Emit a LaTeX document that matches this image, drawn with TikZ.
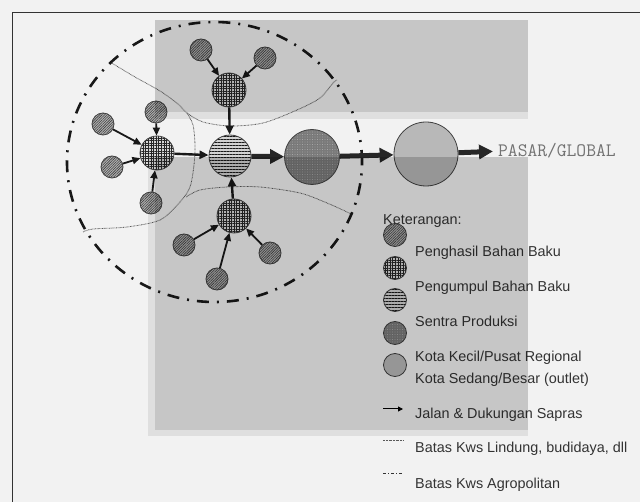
\documentclass[tikz,border=0pt]{standalone}
\usepackage{fontspec}
\setmainfont{Liberation Sans}
\usetikzlibrary{arrows.meta,patterns.meta}
\begin{document}
\begin{tikzpicture}[x=1pt,y=-1pt,
 nd/.style={circle,inner sep=0pt,draw=black!75,line width=0.8pt},
 penghasil/.style={nd,minimum size=22pt,preaction={fill=gray!60},pattern={Lines[angle=45,distance=1.8pt,line width=0.6pt]},pattern color=black!75},
 pengumpul/.style={nd,minimum size=34pt,preaction={fill=gray!30},pattern={Hatch[angle=0,distance=2.6pt,line width=0.6pt]},pattern color=black!85},
 sentra/.style={nd,minimum size=42pt,preaction={fill=gray!35},pattern={Lines[angle=0,distance=3pt,line width=0.9pt]},pattern color=black!90},
 kotakecil/.style={nd,minimum size=55pt,preaction={fill=black!52},pattern={Dots[distance=2.5pt,radius=0.4pt]},pattern color=black!25},
 kotasedang/.style={nd,minimum size=64pt,preaction={fill=black!24},pattern={Dots[distance=2pt,radius=0.4pt]},pattern color=black!70},
 arr/.style={-{Triangle[length=8pt,width=7pt]},line width=1.8pt,black!90},
 arrm/.style={-{Triangle[length=9pt,width=8pt]},line width=2.4pt,black!90},
 arrt/.style={-{Triangle[length=14pt,width=14pt]},line width=5pt,black!85},
 bound/.style={gray!70!black,line width=0.8pt,dash pattern=on 0.7pt off 0.7pt},
 agro/.style={black!90,line width=2.6pt,dash pattern=on 12pt off 8pt on 2pt off 8pt},
 lbl/.style={anchor=base west,text=black!80,font=\fontsize{14.4}{17}\selectfont,inner sep=0pt},
]
\useasboundingbox (0,0) rectangle (640,502);
\fill[white!95!black] (0,0) rectangle (640,502);
\draw[black!80,line width=1pt] (12.5,502) -- (12.5,12.5) -- (640,12.5);

% boundaries
\draw[bound] plot[smooth] coordinates {(110,62) (135,77) (160,91) (178,104) (187,113) (203,122) (230,126) (263,123) (297,110) (320,98) (333,83) (337,80)};
\draw[bound] plot[smooth] coordinates {(187,113) (193,125) (195,145) (194,165) (190,187) (180,202) (160,220) (127,227) (93,229) (83,232)};
\draw[bound] plot[smooth] coordinates {(186,197) (200,190) (227,187) (260,187) (300,193) (327,203) (347,212) (352,215)};

\draw[agro] (214.5,162) ellipse [x radius=147.5pt, y radius=140pt];

% nodes
\node[penghasil] (t1) at (201,50) {};
\node[penghasil] (t2) at (265,58) {};
\node[pengumpul] (tc) at (229,90) {};
\node[sentra] (sp) at (230,156) {};
\node[pengumpul] (lc) at (157,153) {};
\node[penghasil] (l1) at (103,124) {};
\node[penghasil] (l2) at (156,112) {};
\node[penghasil] (l3) at (112,167) {};
\node[penghasil] (l4) at (151,203) {};
\node[pengumpul] (bc) at (234,216) {};
\node[penghasil] (b1) at (184,245) {};
\node[penghasil] (b2) at (217,279) {};
\node[penghasil] (b3) at (270,253) {};
\node[kotakecil] (kk) at (312,157) {};
\node[kotasedang] (ks) at (426,154) {};
\node[font=\ttfamily\fontsize{19}{20}\selectfont, text=black!55, anchor=base west, inner sep=0pt] (pasar) at (498,157) {PASAR/GLOBAL};

% arrows
\draw[arr] (t1) -- (tc);
\draw[arr] (t2) -- (tc);
\draw[arr] (l1) -- (lc);
\draw[arr] (l2) -- (lc);
\draw[arr] (l3) -- (lc);
\draw[arr] (l4) -- (lc);
\draw[arr] (b1) -- (bc);
\draw[arr] (b2) -- (bc);
\draw[arr] (b3) -- (bc);
\draw[arrm] (tc) -- (sp);
\draw[arrm] (bc) -- (sp);
\draw[arrm] (lc) -- (sp);
\draw[arrt] (sp) -- (kk);
\draw[arrt] (kk) -- (ks);
\draw[arrt,shorten >=5pt] (ks) -- (pasar.west);

% legend
\node[lbl] (ket) at (383,225) {Keterangan:};
\node[penghasil,minimum size=23pt] (g1) at (395,235) {};
\node[pengumpul,minimum size=23pt] (g2) at (395,268) {};
\node[sentra,minimum size=23pt] (g3) at (395,300) {};
\node[kotakecil,minimum size=23pt] (g4) at (395,333) {};
\node[kotasedang,minimum size=23pt] (g5) at (395,365) {};
\node[lbl] (t-g1) at (415,257) {Penghasil Bahan Baku};
\node[lbl] (t-g2) at (415,292) {Pengumpul Bahan Baku};
\node[lbl] (t-g3) at (415,327) {Sentra Produksi};
\node[lbl] (t-g4) at (415,362) {Kota Kecil/Pusat Regional};
\node[lbl] (t-g5) at (415,384) {Kota Sedang/Besar (outlet)};
\coordinate (la1) at (383,409); \coordinate (la2) at (403,409);
\draw[-{Triangle[length=5pt,width=5pt]},line width=1pt] (la1) -- (la2);
\node[lbl] (t-l1) at (415,419) {Jalan \& Dukungan Sapras};
\coordinate (lb1) at (383,440); \coordinate (lb2) at (403,440);
\draw[bound,line width=0.6pt] (lb1) -- (lb2);
\node[lbl] (t-l2) at (415,453) {Batas Kws Lindung, budidaya, dll};
\coordinate (lc1) at (383,473); \coordinate (lc2) at (403,473);
\draw[black!80,line width=1pt,dash pattern=on 3pt off 2pt on 1pt off 2pt] (lc1) -- (lc2);
\node[lbl] (t-l3) at (415,488) {Batas Kws Agropolitan};

% watermark overlay
\fill[black,opacity=0.18] (155,20) rectangle (528,112);
\fill[black,opacity=0.08] (155,112) rectangle (528,119);
\fill[black,opacity=0.18] (155,157) rectangle (528,430);
\fill[black,opacity=0.08] (155,430) rectangle (528,436);
\fill[black,opacity=0.08] (148,157) rectangle (155,436);
\end{tikzpicture}
\end{document}
